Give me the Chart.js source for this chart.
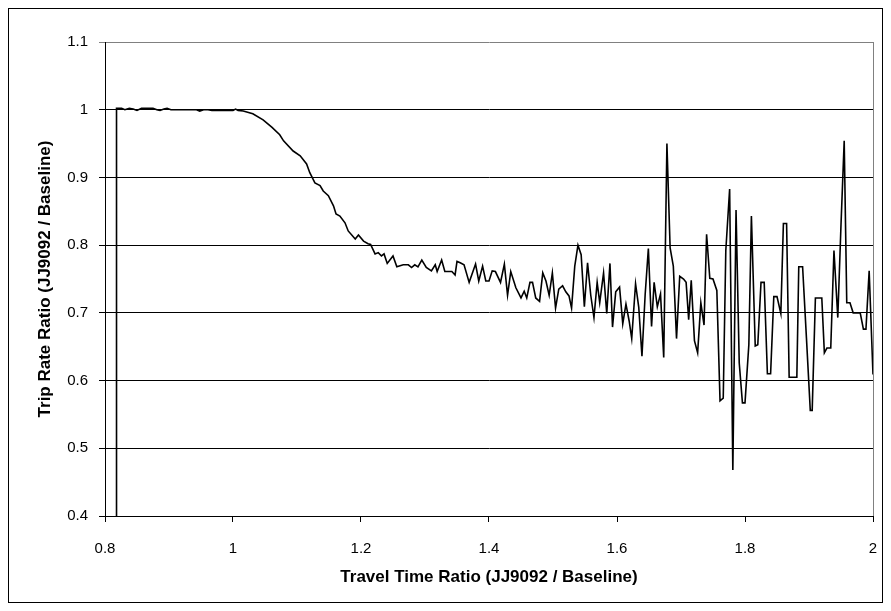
<!DOCTYPE html>
<html>
<head>
<meta charset="utf-8">
<script src="https://cdn.jsdelivr.net/npm/chart.js@4.4.0/dist/chart.umd.min.js"></script>
<style>
  html, body { margin: 0; padding: 0; background: #fff; }
  #wrap { position: relative; width: 891px; height: 611px; }
</style>
</head>
<body>
<div id="wrap"><canvas id="chart"></canvas></div>
<script>
// Travel time ratio (x) and trip rate ratio (y)
const travelTimeRatio = [
  0.818, 0.818, 0.826, 0.831, 0.838, 0.844, 0.850, 0.857, 0.868, 0.875, 0.881, 0.886,
  0.892, 0.897, 0.903, 0.943, 0.948, 0.954, 0.961, 0.967, 1.000, 1.004, 1.008, 1.016,
  1.031, 1.047, 1.061, 1.073, 1.079, 1.094, 1.105, 1.115, 1.120, 1.128,
  1.136, 1.141, 1.149, 1.157, 1.161, 1.167, 1.175, 1.180, 1.191, 1.196,
  1.204, 1.211, 1.215, 1.222, 1.227, 1.232, 1.236, 1.241, 1.250, 1.256,
  1.266, 1.274, 1.279, 1.284, 1.289, 1.295, 1.302, 1.310, 1.316, 1.319,
  1.326, 1.331, 1.342, 1.347, 1.350,
  1.355, 1.361, 1.369, 1.379, 1.384, 1.390, 1.395, 1.400, 1.405, 1.410,
  1.418, 1.424, 1.429, 1.434, 1.442, 1.450, 1.455, 1.459, 1.464, 1.468,
  1.473, 1.479, 1.484, 1.489, 1.494, 1.499, 1.504, 1.509, 1.515, 1.520,
  1.525, 1.529, 1.534, 1.539, 1.544, 1.549, 1.554, 1.559, 1.564, 1.569,
  1.573, 1.579, 1.584, 1.589, 1.593, 1.598, 1.604, 1.609, 1.614, 1.619,
  1.623, 1.629, 1.634, 1.639, 1.644, 1.649, 1.654, 1.658, 1.663, 1.668,
  1.673, 1.678, 1.683, 1.688, 1.693, 1.698, 1.704, 1.708, 1.712, 1.716,
  1.721, 1.726, 1.731, 1.736, 1.740, 1.745, 1.750, 1.756, 1.761, 1.766,
  1.770, 1.776, 1.781, 1.786, 1.791, 1.796, 1.800, 1.806, 1.810, 1.816,
  1.820, 1.825, 1.830, 1.835, 1.840, 1.845, 1.850, 1.856, 1.860, 1.865,
  1.869, 1.875, 1.881, 1.884, 1.890, 1.896, 1.902, 1.905, 1.910, 1.915,
  1.920, 1.924, 1.928, 1.934, 1.939, 1.945, 1.950, 1.955, 1.959, 1.964,
  1.969, 1.975, 1.980, 1.985, 1.989, 1.994, 2.000
];

const tripRateRatio = [
  0.000, 1.002, 1.002, 1.000, 1.002, 1.001, 0.999, 1.002, 1.002, 1.002, 1.000, 0.999,
  1.001, 1.002, 1.000, 1.000, 0.998, 1.000, 1.000, 0.999, 0.999, 1.001, 0.999, 0.998,
  0.994, 0.985, 0.974, 0.963, 0.954, 0.939, 0.932, 0.920, 0.907, 0.892,
  0.888, 0.880, 0.873, 0.858, 0.846, 0.843, 0.833, 0.821, 0.809, 0.815,
  0.806, 0.802, 0.801, 0.787, 0.789, 0.784, 0.787, 0.773, 0.784, 0.768,
  0.771, 0.771, 0.767, 0.771, 0.768, 0.778, 0.767, 0.762, 0.771, 0.761,
  0.778, 0.761, 0.761, 0.756, 0.776,
  0.774, 0.771, 0.745, 0.772, 0.747, 0.769, 0.747, 0.747, 0.762, 0.761,
  0.745, 0.772, 0.726, 0.761, 0.737, 0.722, 0.732, 0.722, 0.745, 0.745,
  0.722, 0.717, 0.759, 0.747, 0.726, 0.759, 0.707, 0.735, 0.740, 0.731,
  0.725, 0.707, 0.769, 0.800, 0.786, 0.709, 0.774, 0.726, 0.693, 0.745,
  0.715, 0.759, 0.699, 0.773, 0.679, 0.731, 0.738, 0.684, 0.713, 0.688,
  0.662, 0.743, 0.708, 0.636, 0.727, 0.795, 0.680, 0.745, 0.709, 0.728,
  0.634, 0.950, 0.796, 0.769, 0.662, 0.754, 0.750, 0.745, 0.690, 0.748,
  0.659, 0.641, 0.715, 0.682, 0.816, 0.751, 0.750, 0.733, 0.570, 0.574,
  0.792, 0.883, 0.468, 0.852, 0.626, 0.567, 0.567, 0.653, 0.843, 0.651,
  0.653, 0.745, 0.745, 0.610, 0.610, 0.724, 0.724, 0.699, 0.832, 0.832,
  0.605, 0.605, 0.605, 0.768, 0.768, 0.663, 0.556, 0.556, 0.722, 0.722,
  0.722, 0.641, 0.648, 0.648, 0.792, 0.693, 0.830, 0.954, 0.715, 0.715,
  0.700, 0.700, 0.700, 0.676, 0.676, 0.762, 0.609
];

const xTicks = [0.8, 1, 1.2, 1.4, 1.6, 1.8, 2];
const yTicks = [0.4, 0.5, 0.6, 0.7, 0.8, 0.9, 1, 1.1];

const labelFont = { family: '"Liberation Sans", Arial, sans-serif', size: 15 };
const titleFont = { family: '"Liberation Sans", Arial, sans-serif', size: 17, weight: 'bold' };

// plain labels: 1 rather than 1.0
const plainLabel = v => String(Math.round(v * 10) / 10);

// white background, grey plot edge on the right, black outer frame
const framePlugin = {
  id: 'frame',
  beforeDraw(chart) {
    const ctx = chart.ctx;
    ctx.save();
    ctx.fillStyle = '#fff';
    ctx.fillRect(0, 0, chart.width, chart.height);
    ctx.restore();
  },
  afterDraw(chart) {
    const { ctx, chartArea: a } = chart;
    ctx.save();
    ctx.strokeStyle = '#808080';
    ctx.lineWidth = 1;
    ctx.beginPath();
    ctx.moveTo(Math.round(a.right) + 0.5, a.top);
    ctx.lineTo(Math.round(a.right) + 0.5, a.bottom);
    ctx.stroke();
    ctx.strokeStyle = '#000';
    ctx.strokeRect(8.5, 8.5, chart.width - 17, chart.height - 17);
    ctx.restore();
  }
};

const points = travelTimeRatio.map((x, i) => ({ x: x, y: tripRateRatio[i] }));

const ctx = document.getElementById('chart').getContext('2d');
new Chart(ctx, {
  type: 'line',
  data: {
    datasets: [{
      data: points,
      borderColor: '#000',
      borderWidth: 1.6,
      pointRadius: 0,
      tension: 0,
      fill: false
    }]
  },
  options: {
    responsive: true,
    maintainAspectRatio: false,
    animation: false,
    layout: { padding: { top: 42, right: 18, left: 0, bottom: 0 } },
    plugins: {
      legend: { display: false },
      tooltip: { enabled: false }
    },
    scales: {
      x: {
        type: 'linear',
        min: xTicks[0],
        max: xTicks[xTicks.length - 1],
        afterBuildTicks: axis => { axis.ticks = xTicks.map(v => ({ value: v })); },
        afterFit: axis => {
          axis.height = 95;
          axis.paddingLeft = 0;
          axis.paddingRight = 0;
        },
        grid: { drawOnChartArea: false, drawTicks: true, tickLength: 6, color: '#000' },
        border: { color: '#000', width: 1 },
        ticks: { color: '#000', font: labelFont, padding: 18, maxRotation: 0, autoSkip: false, callback: plainLabel },
        title: {
          display: true,
          text: 'Travel Time Ratio (JJ9092 / Baseline)',
          color: '#000',
          font: titleFont,
          padding: { top: 0, bottom: 23 }
        }
      },
      y: {
        min: yTicks[0],
        max: yTicks[yTicks.length - 1],
        afterBuildTicks: axis => { axis.ticks = yTicks.map(v => ({ value: v })); },
        afterFit: axis => { axis.width = 105; },
        grid: {
          color: c => (c.tick && c.tick.value === 1.1 ? '#808080' : '#000'),
          tickLength: 6,
          drawTicks: true
        },
        border: { color: '#000', width: 1 },
        ticks: { color: '#000', font: labelFont, padding: 11, autoSkip: false, callback: plainLabel },
        title: {
          display: true,
          text: 'Trip Rate Ratio (JJ9092 / Baseline)',
          color: '#000',
          font: titleFont,
          padding: { top: 35, bottom: 0 }
        }
      }
    }
  },
  plugins: [framePlugin]
});
</script>
</body>
</html>
